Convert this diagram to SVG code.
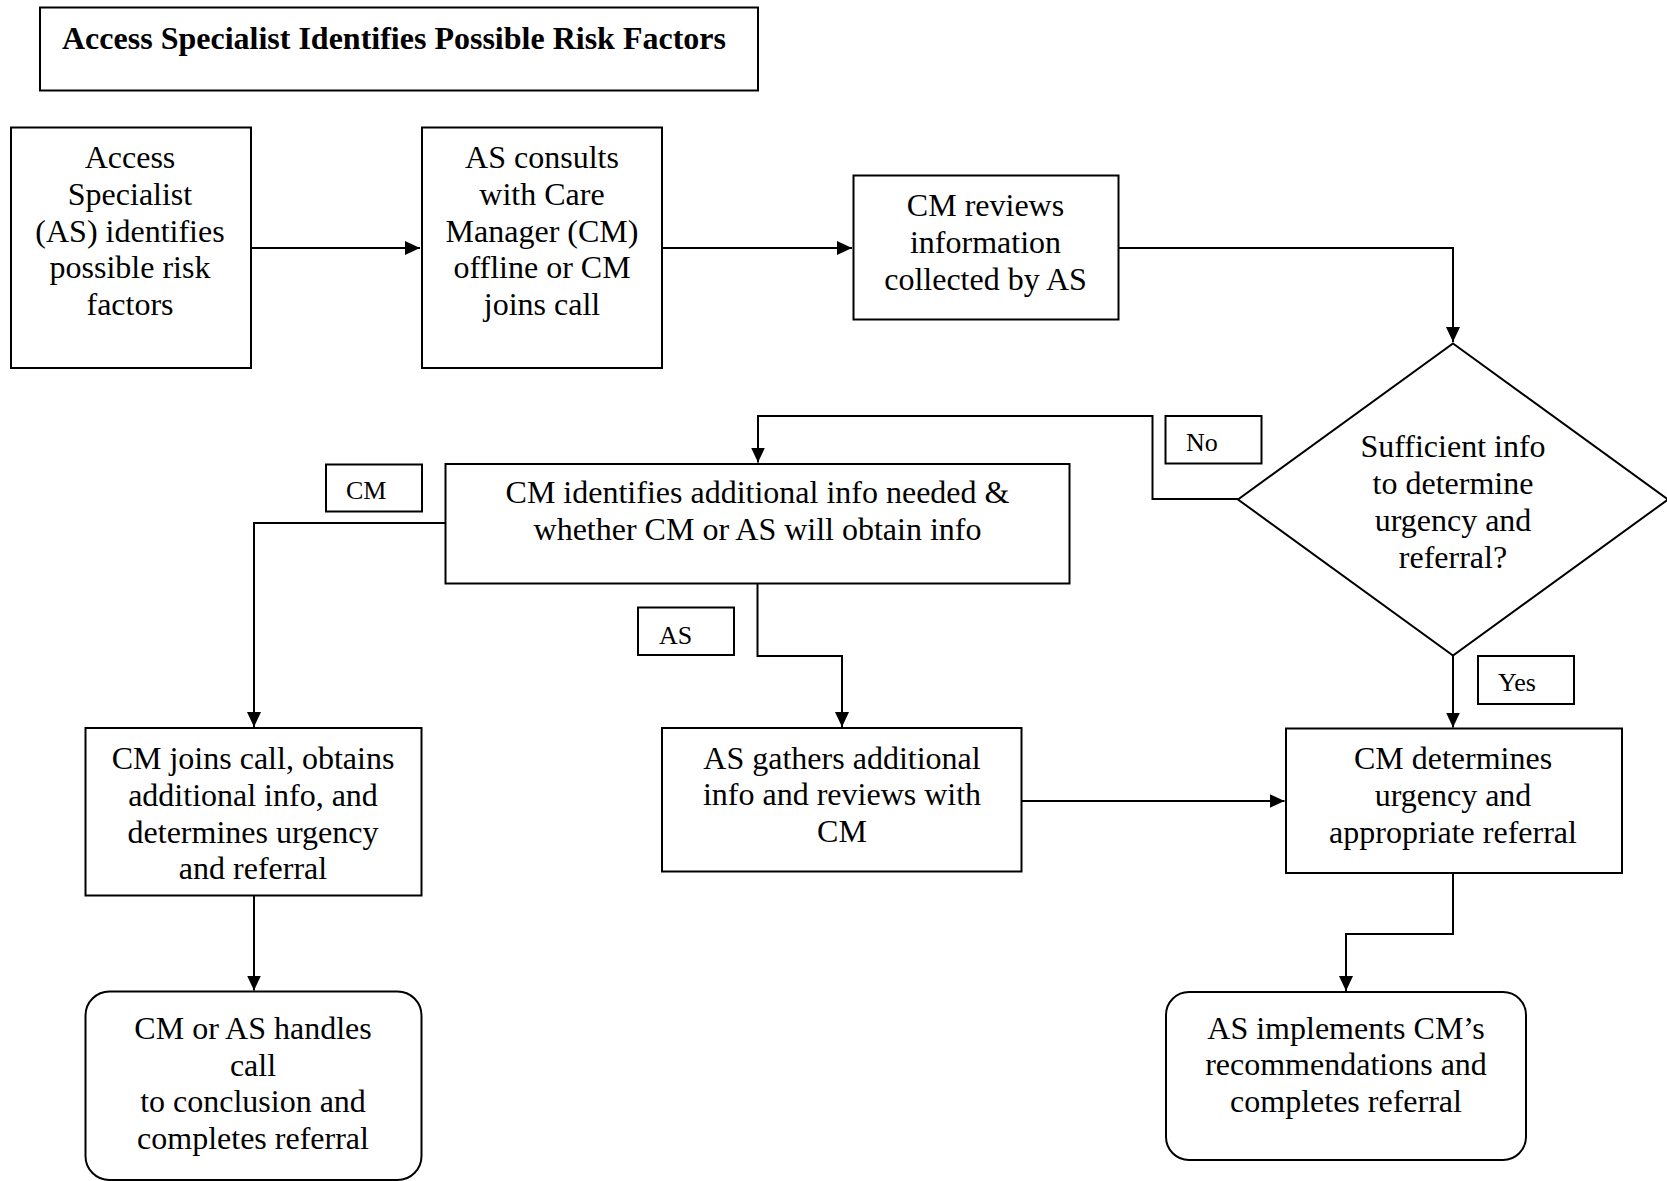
<svg xmlns="http://www.w3.org/2000/svg" width="1667" height="1181" viewBox="0 0 1667 1181">
<style>
.box{fill:#fff;stroke:#000;stroke-width:2}
.lbl{fill:#fff;stroke:#000;stroke-width:2}
.t{font-family:"Liberation Serif","Times New Roman",serif;font-size:32px;fill:#000;text-anchor:middle}
.tl{font-family:"Liberation Serif","Times New Roman",serif;font-size:26px;fill:#000}
.title{font-family:"Liberation Serif","Times New Roman",serif;font-size:32px;font-weight:bold;fill:#000}
.c{fill:none;stroke:#000;stroke-width:2}
</style>
<defs>
<marker id="arr" markerUnits="userSpaceOnUse" markerWidth="16" markerHeight="14" refX="15" refY="7" orient="auto">
<path d="M0,0 L15,7 L0,14 z" fill="#000"/>
</marker>
</defs>
<rect width="1667" height="1181" fill="#fff"/>

<g id="connectors">
<path class="c" d="M251,248 H420" marker-end="url(#arr)"/>
<path class="c" d="M662,248 H852" marker-end="url(#arr)"/>
<path class="c" d="M1118,248 H1453 V342" marker-end="url(#arr)"/>
<path class="c" d="M1238,499 H1152.5 V416 H758 V462.5" marker-end="url(#arr)"/>
<path class="c" d="M445.5,523 H254 V727" marker-end="url(#arr)"/>
<path class="c" d="M757.5,583.5 V656 H842 V727" marker-end="url(#arr)"/>
<path class="c" d="M1453,655 V727.5" marker-end="url(#arr)"/>
<path class="c" d="M1021.5,801 H1284.5" marker-end="url(#arr)"/>
<path class="c" d="M254,895.5 V990.5" marker-end="url(#arr)"/>
<path class="c" d="M1453,873 V934 H1346 V991" marker-end="url(#arr)"/>
</g>

<g id="title">
<rect class="box" x="40" y="7.5" width="718" height="83"/>
<text class="title" x="62" y="49">Access Specialist Identifies Possible Risk Factors</text>
</g>

<g id="n1">
<rect class="box" x="11" y="127.5" width="240" height="240.5"/>
<text class="t"><tspan x="130" y="168">Access</tspan><tspan x="130" y="205">Specialist</tspan><tspan x="130" y="241.5">(AS) identifies</tspan><tspan x="130" y="278">possible risk</tspan><tspan x="130" y="315">factors</tspan></text>
</g>

<g id="n2">
<rect class="box" x="422" y="127.5" width="240" height="240.5"/>
<text class="t"><tspan x="542" y="168">AS consults</tspan><tspan x="542" y="205">with Care</tspan><tspan x="542" y="241.5">Manager (CM)</tspan><tspan x="542" y="278">offline or CM</tspan><tspan x="542" y="315">joins call</tspan></text>
</g>

<g id="n3">
<rect class="box" x="853.5" y="175.5" width="265" height="144"/>
<text class="t"><tspan x="985.5" y="216">CM reviews</tspan><tspan x="985.5" y="253">information</tspan><tspan x="985.5" y="289.5">collected by AS</tspan></text>
</g>

<g id="n4">
<polygon class="box" points="1453,343.5 1668,499.5 1453,655.5 1238,499.5"/>
<text class="t"><tspan x="1453" y="457">Sufficient info</tspan><tspan x="1453" y="494">to determine</tspan><tspan x="1453" y="531">urgency and</tspan><tspan x="1453" y="567.5">referral?</tspan></text>
</g>

<g id="lblNo">
<rect class="lbl" x="1165.5" y="416" width="96" height="47.5"/>
<text class="tl" x="1186" y="451">No</text>
</g>

<g id="n5">
<rect class="box" x="445.5" y="464" width="624" height="119.5"/>
<text class="t"><tspan x="757.5" y="503">CM identifies additional info needed &amp;</tspan><tspan x="757.5" y="539.5">whether CM or AS will obtain info</tspan></text>
</g>

<g id="lblCM">
<rect class="lbl" x="326" y="464.5" width="96" height="47"/>
<text class="tl" x="346" y="498.5">CM</text>
</g>

<g id="lblAS">
<rect class="lbl" x="638" y="607.5" width="96" height="47.5"/>
<text class="tl" x="659" y="643.5">AS</text>
</g>

<g id="lblYes">
<rect class="lbl" x="1478" y="656" width="96" height="48"/>
<text class="tl" x="1498" y="690.5">Yes</text>
</g>

<g id="n6">
<rect class="box" x="85.5" y="728" width="336" height="167.5"/>
<text class="t"><tspan x="253" y="768.5">CM joins call, obtains</tspan><tspan x="253" y="805.5">additional info, and</tspan><tspan x="253" y="842.5">determines urgency</tspan><tspan x="253" y="879">and referral</tspan></text>
</g>

<g id="n7">
<rect class="box" x="662" y="728" width="359.5" height="143.5"/>
<text class="t"><tspan x="842" y="768.5">AS gathers additional</tspan><tspan x="842" y="805">info and reviews with</tspan><tspan x="842" y="841.5">CM</tspan></text>
</g>

<g id="n8">
<rect class="box" x="1286" y="728.5" width="336" height="144.5"/>
<text class="t"><tspan x="1453" y="768.5">CM determines</tspan><tspan x="1453" y="805.5">urgency and</tspan><tspan x="1453" y="842.5">appropriate referral</tspan></text>
</g>

<g id="n9">
<rect class="box" x="85.5" y="991.5" width="336" height="188.5" rx="24" ry="24"/>
<text class="t"><tspan x="253" y="1039">CM or AS handles</tspan><tspan x="253" y="1075.5">call</tspan><tspan x="253" y="1112">to conclusion and</tspan><tspan x="253" y="1149">completes referral</tspan></text>
</g>

<g id="n10">
<rect class="box" x="1166" y="992" width="360" height="168" rx="23" ry="23"/>
<text class="t"><tspan x="1346" y="1039">AS implements CM’s</tspan><tspan x="1346" y="1075">recommendations and</tspan><tspan x="1346" y="1112">completes referral</tspan></text>
</g>
</svg>
